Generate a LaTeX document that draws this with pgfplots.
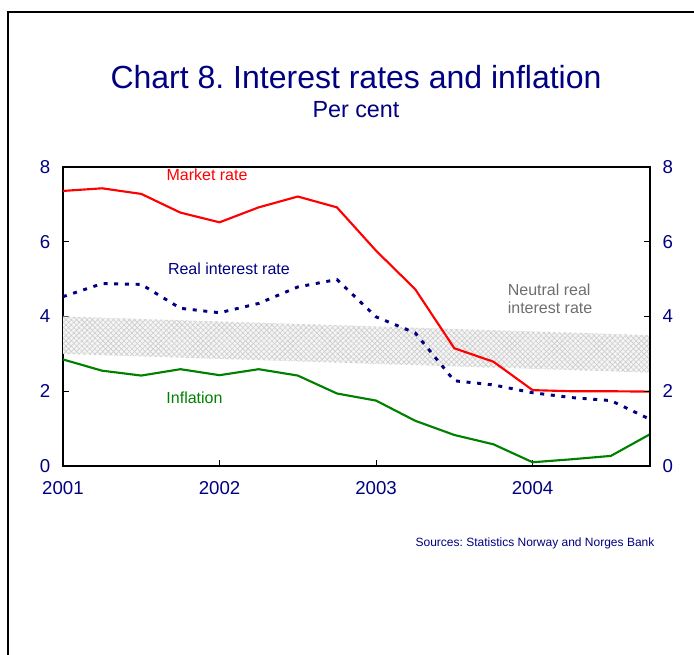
\documentclass[border=0pt]{standalone}
\usepackage{pgfplots}
\pgfplotsset{compat=1.18}
\usepackage{fontspec}
\setmainfont{Liberation Sans}
\usetikzlibrary{patterns.meta}
\definecolor{navy}{RGB}{0,0,128}
\definecolor{mred}{RGB}{255,0,0}
\definecolor{mgreen}{RGB}{0,128,0}
\definecolor{ngray}{RGB}{110,110,110}
\frenchspacing

\begin{document}
\begin{tikzpicture}
\useasboundingbox (0,0) rectangle (520.5pt,-491.25pt);
% frame of the slide
\draw[line width=1.5pt] (6pt,-491.25pt) -- (6pt,-9pt) -- (520.5pt,-9pt);
\node[navy, font=\fontsize{24}{28}\selectfont] at (267pt,-57.75pt) {Chart 8. Interest rates and inflation};
\node[navy, font=\fontsize{17.5}{20}\selectfont] at (267pt,-82.5pt) {Per cent};
\node[navy, font=\fontsize{9}{11}\selectfont] at (401.25pt,-407.25pt) {Sources: Statistics Norway and Norges Bank};

\begin{axis}[
  at={(47.25pt,-349.5pt)}, anchor=south west,
  width=440.25pt, height=224.25pt, scale only axis,
  xmin=2001, xmax=2004.75, ymin=0, ymax=8,
  xtick={2001,2002,2003,2004}, xticklabels={2001,2002,2003,2004},
  ytick={0,2,4,6,8},
  xtick pos=bottom, ytick pos=left,
  tick align=inside, major tick length=4.5pt,
  tick style={black, line width=0.8pt},
  axis line style={black, line width=0.8pt},
  ticklabel style={navy, font=\fontsize{14}{16}\selectfont},
  /pgf/number format/assume math mode=true,
  xticklabel style={yshift=-8pt},
  yticklabel style={xshift=-6pt},
  clip=false,
]
% neutral real interest rate band
\addplot[draw=none, fill=gray!8] coordinates {(2001,3)(2004.75,2.5)(2004.75,3.5)(2001,4)} -- cycle;
\addplot[draw=none, pattern={Lines[angle=45,distance=2.8pt,line width=0.45pt]}, pattern color=gray!40] coordinates {(2001,3)(2004.75,2.5)(2004.75,3.5)(2001,4)} -- cycle;
\addplot[draw=none, pattern={Lines[angle=-45,distance=2.8pt,line width=0.45pt]}, pattern color=gray!40] coordinates {(2001,3)(2004.75,2.5)(2004.75,3.5)(2001,4)} -- cycle;

% market rate
\addplot[mred, line width=1.6pt] coordinates {
(2001,7.36)(2001.25,7.43)(2001.5,7.28)(2001.75,6.78)
(2002,6.52)(2002.25,6.92)(2002.5,7.21)(2002.75,6.92)
(2003,5.76)(2003.25,4.73)(2003.5,3.15)(2003.75,2.79)
(2004,2.03)(2004.25,2.0)(2004.5,2.0)(2004.75,1.99)};

% real interest rate
\addplot[navy, line width=2.2pt, dash pattern=on 3pt off 5pt] coordinates {
(2001,4.53)(2001.25,4.88)(2001.5,4.86)(2001.75,4.22)
(2002,4.10)(2002.25,4.35)(2002.5,4.79)(2002.75,4.99)
(2003,3.99)(2003.25,3.56)(2003.5,2.28)(2003.75,2.17)
(2004,1.96)(2004.25,1.83)(2004.5,1.75)(2004.75,1.25)};

% inflation
\addplot[mgreen, line width=1.6pt] coordinates {
(2001,2.85)(2001.25,2.55)(2001.5,2.42)(2001.75,2.59)
(2002,2.43)(2002.25,2.59)(2002.5,2.42)(2002.75,1.94)
(2003,1.75)(2003.25,1.21)(2003.5,0.83)(2003.75,0.58)
(2004,0.10)(2004.25,0.18)(2004.5,0.27)(2004.75,0.85)};

\node[mred, font=\fontsize{12}{14}\selectfont] at (axis cs:2001.92,7.78) {Market rate};
\node[navy, font=\fontsize{12}{14}\selectfont] at (axis cs:2002.06,5.29) {Real interest rate};
\node[ngray, font=\fontsize{12}{14}\selectfont, anchor=west, align=left, inner sep=0pt] at (axis cs:2003.84,4.47) {Neutral real\\interest rate};
\node[mgreen, font=\fontsize{12}{14}\selectfont] at (axis cs:2001.84,1.82) {Inflation};
\end{axis}

\begin{axis}[
  at={(47.25pt,-349.5pt)}, anchor=south west,
  width=440.25pt, height=224.25pt, scale only axis,
  xmin=2001, xmax=2004.75, ymin=0, ymax=8,
  hide x axis, axis y line*=right,
  ytick={0,2,4,6,8},
  tick align=inside, major tick length=4.5pt,
  tick style={black, line width=0.8pt},
  axis line style={black, line width=0.8pt, -},
  ticklabel style={navy, font=\fontsize{14}{16}\selectfont},
  /pgf/number format/assume math mode=true,
  yticklabel style={xshift=6pt},
]
\end{axis}
\end{tikzpicture}
\end{document}
